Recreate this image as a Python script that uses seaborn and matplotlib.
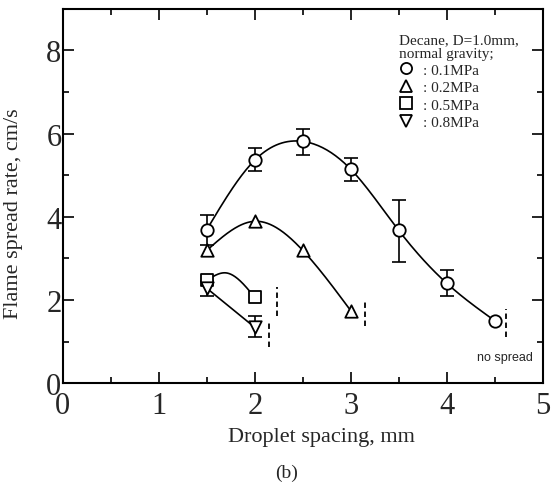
import numpy as np
import matplotlib
matplotlib.use('Agg')
import matplotlib.pyplot as plt
from matplotlib.lines import Line2D
from matplotlib.ticker import MultipleLocator
import seaborn as sns

# 数据
x_01 = [1.5, 2.0, 2.5, 3.0, 3.5, 4.0, 4.5]
y_01 = [3.69, 5.36, 5.81, 5.14, 3.67, 2.40, 1.50]
lo_01 = [3.31, 5.09, 5.49, 4.87, 2.92, 2.10, 1.50]
hi_01 = [4.05, 5.64, 6.12, 5.41, 4.39, 2.71, 1.50]

x_02 = [1.5, 2.0, 2.5, 3.0]
y_02 = [3.19, 3.89, 3.19, 1.74]

x_05 = [1.5, 2.0]
y_05 = [2.47, 2.06]
# 0.5MPa 的手绘曲线经过的点
curve_05_x = [1.5, 1.7, 2.0]
curve_05_y = [2.47, 2.65, 2.06]

x_08 = [1.5, 2.0]
y_08 = [2.28, 1.34]
lo_08 = [2.10, 1.10]
hi_08 = [2.45, 1.62]

# "no spread" 极限 (虚线)
limit_x = [2.23, 2.15, 3.15, 4.62]
limit_lo = [1.62, 0.86, 1.38, 1.10]
limit_hi = [2.31, 1.50, 2.02, 1.78]

labels = [': 0.1MPa', ': 0.2MPa', ': 0.5MPa', ': 0.8MPa']
markers = ['o', '^', 's', 'v']


def natural_spline(xs, ys, n=200):
    xs = np.asarray(xs, float)
    ys = np.asarray(ys, float)
    k = len(xs)
    h = np.diff(xs)
    A = np.zeros((k, k))
    b = np.zeros(k)
    A[0, 0] = A[-1, -1] = 1
    for i in range(1, k - 1):
        A[i, i - 1] = h[i - 1]
        A[i, i] = 2 * (h[i - 1] + h[i])
        A[i, i + 1] = h[i]
        b[i] = 6 * ((ys[i + 1] - ys[i]) / h[i] - (ys[i] - ys[i - 1]) / h[i - 1])
    M = np.linalg.solve(A, b)
    xx = np.linspace(xs[0], xs[-1], n)
    j = np.clip(np.searchsorted(xs, xx) - 1, 0, k - 2)
    t0 = xs[j + 1] - xx
    t1 = xx - xs[j]
    hj = h[j]
    yy = (M[j] * t0 ** 3 + M[j + 1] * t1 ** 3) / (6 * hj) \
        + (ys[j] / hj - M[j] * hj / 6) * t0 + (ys[j + 1] / hj - M[j + 1] * hj / 6) * t1
    return xx, yy


sns.set_theme(style='ticks')
plt.rcParams['font.family'] = ['Liberation Serif', 'DejaVu Serif']

fig = plt.figure(figsize=(5.51, 4.85), dpi=100)
ax = fig.add_axes([0.114, 0.208, 0.871, 0.772])

lw = 1.2
# 曲线
for xs, ys in [(x_01, y_01), (x_02, y_02), (curve_05_x, curve_05_y)]:
    xx, yy = natural_spline(xs, ys)
    ax.plot(xx, yy, color='black', lw=lw, zorder=2)
sns.lineplot(x=x_08, y=y_08, color='black', lw=lw, ax=ax, zorder=2)

# 误差线
ax.errorbar(x_01[:-1], y_01[:-1],
            yerr=[np.array(y_01[:-1]) - np.array(lo_01[:-1]),
                  np.array(hi_01[:-1]) - np.array(y_01[:-1])],
            fmt='none', ecolor='black', elinewidth=1.2, capsize=5, capthick=1.2, zorder=2)
ax.errorbar(x_08, y_08,
            yerr=[np.array(y_08) - np.array(lo_08), np.array(hi_08) - np.array(y_08)],
            fmt='none', ecolor='black', elinewidth=1.2, capsize=5, capthick=1.2, zorder=2)

# 数据点
for xs, ys, m in [(x_01, y_01, 'o'), (x_02, y_02, '^'), (x_05, y_05, 's'), (x_08, y_08, 'v')]:
    sns.scatterplot(x=xs, y=ys, marker=m, s=80, facecolor='white',
                    edgecolor='black', linewidth=1.3, ax=ax, zorder=3)

# 虚线
ax.vlines(limit_x, limit_lo, limit_hi, colors='black', linestyles=(0, (3, 2)), lw=1.3)
ax.text(4.9, 0.62, 'no spread', fontsize=9, family=['Liberation Sans'], ha='right', va='center')

ax.set_xlim(0, 5)
ax.set_ylim(0, 9)
ax.xaxis.set_major_locator(MultipleLocator(1))
ax.xaxis.set_minor_locator(MultipleLocator(0.5))
ax.yaxis.set_minor_locator(MultipleLocator(1))
ax.set_yticks([0, 2, 4, 6, 8])
ax.tick_params(which='both', direction='in', top=True, right=True, color='black', width=1.2)
ax.tick_params(which='major', length=8, labelsize=22)
ax.tick_params(which='minor', length=4)
ax.tick_params(axis='x', pad=6)
ax.tick_params(axis='y', pad=1)
for s in ax.spines.values():
    s.set_linewidth(1.5)
    s.set_color('black')

handles = [Line2D([], [], ls='none', marker=m, markersize=8, markerfacecolor='white',
                  markeredgecolor='black', markeredgewidth=1.3) for m in markers]
leg = ax.legend(handles, labels, title='Decane, D=1.0mm,\nnormal gravity;',
                loc='upper left', bbox_to_anchor=(0.70, 0.935), frameon=False,
                fontsize=11, title_fontsize=11, borderpad=0, labelspacing=0.25,
                handlelength=1.0, handletextpad=0.6, borderaxespad=0)
leg.get_title().set_linespacing(1.1)
leg._legend_box.align = 'left'
leg._legend_box.sep = 2

fig.text(321 / 551, 1 - 438 / 485, 'Droplet spacing, mm', fontsize=16, ha='center', va='center')
fig.text(14 / 551, 1 - 214 / 485, 'Flame spread rate, cm/s', fontsize=16, rotation=90,
         ha='center', va='center')
fig.text(287 / 551, 1 - 473 / 485, '(b)', fontsize=14, ha='center', va='center')

plt.savefig('out.png', dpi=100)
